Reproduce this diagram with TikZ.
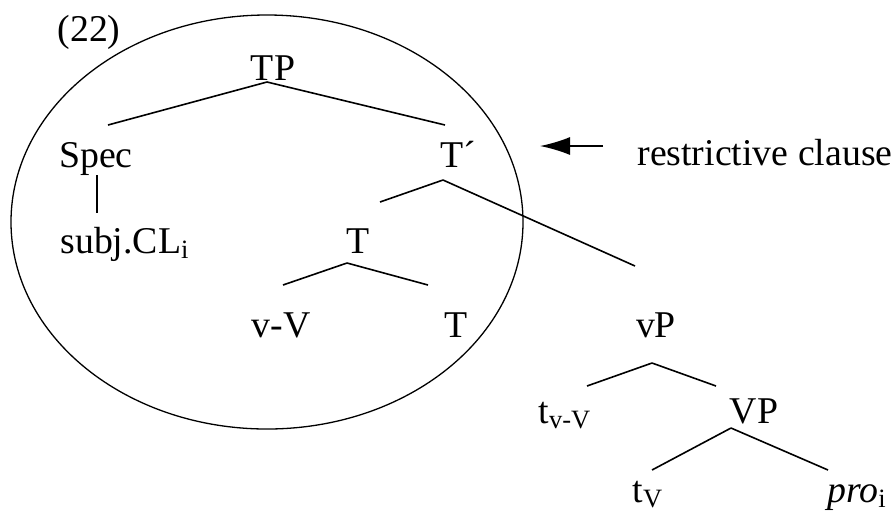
\documentclass[tikz,border=0pt]{standalone}
\usepackage{fontspec}
\setmainfont{Liberation Serif}
\usetikzlibrary{arrows.meta}
\tikzstyle{word}=[anchor=base, inner sep=0pt, font=\fontsize{18.9}{22}\selectfont]
\tikzstyle{branch}=[line width=0.8pt]
\newcommand{\word}{\node[word]}

\begin{document}
\begin{tikzpicture}[x=0.5pt, y=-0.5pt]
	\useasboundingbox (0,0) rectangle (892,516);
	% the circled part
	\draw[line width=0.65pt] (267,222) ellipse [x radius=256, y radius=207];

	\word (exno) at (89,41) {(22)};
	\word (tp) at (273,80) {TP};
	\word (spec) at (96,167) {Spec};
	\word (tbar) at (458,167) {T´};
	\word[anchor=base west] (restr) at (637,165) {restrictive clause};
	\word[anchor=base west] (subj) at (60,253) {subj.CL\textsubscript{i}};
	\word (tmid) at (358,253) {T};
	\word (vv) at (281,337) {v-V};
	\word (tlow) at (456,337) {T};
	\word (vp) at (656,337) {vP};
	\word (tvv) at (565,423) {t\textsubscript{v-V}};
	\word (bigvp) at (754,423) {VP};
	\word (tv) at (648,502) {t\textsubscript{V}};
	\word (pro) at (857,502) {\textit{pro}\textsubscript{i}};

	% branch ends
	\coordinate (tp-a) at (267,82);
	\coordinate (tp-l) at (108,125);
	\coordinate (tp-r) at (445,125);
	\coordinate (spec-a) at (97,175);
	\coordinate (spec-b) at (97,213);
	\coordinate (tbar-a) at (443,180);
	\coordinate (tbar-l) at (380,202);
	\coordinate (tbar-r) at (635,266);
	\coordinate (tmid-a) at (347,263);
	\coordinate (tmid-l) at (283,285);
	\coordinate (tmid-r) at (428,285);
	\coordinate (vp-a) at (652,363);
	\coordinate (vp-l) at (587,386);
	\coordinate (vp-r) at (716,386);
	\coordinate (bigvp-a) at (731,428);
	\coordinate (bigvp-l) at (652,470);
	\coordinate (bigvp-r) at (828,470);
	\coordinate (arr-tail) at (603,146);
	\coordinate (arr-tip) at (540,146);

	\path[branch]
		(tp-a) edge (tp-l)
		(tp-a) edge (tp-r)
		(spec-a) edge (spec-b)
		(tbar-a) edge (tbar-l)
		(tbar-a) edge (tbar-r)
		(tmid-a) edge (tmid-l)
		(tmid-a) edge (tmid-r)
		(vp-a) edge (vp-l)
		(vp-a) edge (vp-r)
		(bigvp-a) edge (bigvp-l)
		(bigvp-a) edge (bigvp-r)
	;
	\draw[branch, -{Latex[length=15pt, width=9pt]}] (arr-tail) -- (arr-tip);
\end{tikzpicture}
\end{document}
